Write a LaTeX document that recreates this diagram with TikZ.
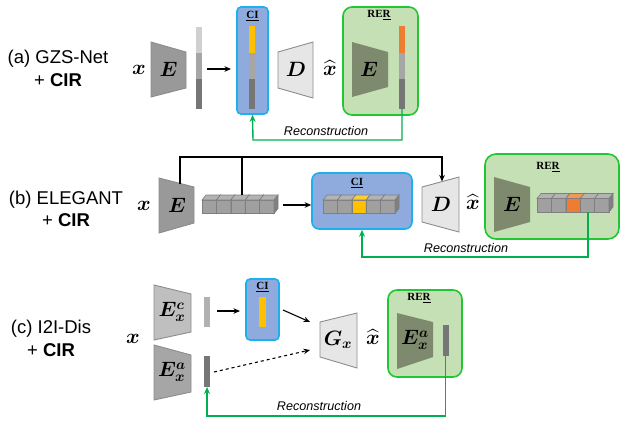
\documentclass[tikz,border=0pt]{standalone}
\usepackage{amsmath}
\usepackage{bm}
\usepackage{fontspec}
\setmainfont{Liberation Sans}
\newfontfamily\serifb{Liberation Serif}
\usetikzlibrary{arrows.meta}
\definecolor{cifill}{HTML}{8FAADC}
\definecolor{ciedge}{HTML}{1CB0EE}
\definecolor{rerfill}{HTML}{C5E0B4}
\definecolor{reredge}{HTML}{22C532}
\definecolor{recon}{HTML}{00B050}
\definecolor{encg}{HTML}{999999}
\definecolor{encl}{HTML}{BFBFBF}
\definecolor{decg}{HTML}{E6E6E6}
\definecolor{encgreen}{HTML}{7D8A6E}
\definecolor{lgray}{HTML}{D0D0D0}
\definecolor{mgray}{HTML}{A6A6A6}
\definecolor{dgray}{HTML}{767676}
\definecolor{cubeg}{HTML}{A0A0A0}
\definecolor{cubeedge}{HTML}{7F7F7F}
\definecolor{ciyellow}{HTML}{FFC000}
\definecolor{rerorange}{HTML}{ED7D31}
\definecolor{trapedge}{HTML}{8C8C8C}
\newcommand{\cuberow}[3]{%
  \foreach \i/\c in {0/cubeg,1/cubeg,2/#3,3/cubeg,4/cubeg}{%
    \pgfmathsetmacro\xx{#1+\i*14.4}
    \draw[draw=cubeedge, line width=0.6, fill=\c] (\xx,#2) rectangle ++(14.4,13.5);
    \draw[draw=cubeedge, line width=0.6, fill=\c!80!white] (\xx,#2) -- ++(4,-5) -- ++(14.4,0) -- ++(-4,5) -- cycle;
    \draw[draw=cubeedge, line width=0.6, fill=\c!80!black] (\xx+14.4,#2) -- ++(4,-5) -- ++(0,13.5) -- ++(-4,5) -- cycle;
  }}
\begin{document}
\begin{tikzpicture}[x=1pt,y=-1pt,
  mainlab/.style={font=\fontsize{18.5}{22.5}\selectfont, align=center, inner sep=0},
  mvar/.style={font=\fontsize{22}{26}\selectfont, inner sep=0},
  svar/.style={font=\fontsize{20}{24}\selectfont, inner sep=0},
  boxlab/.style={font=\serifb\bfseries\fontsize{11}{13}\selectfont, inner sep=0},
  trap/.style={draw=trapedge, line width=0.9},
  cibox/.style={draw=ciedge, fill=cifill, line width=1.6, rounded corners=4},
  rerbox/.style={draw=reredge, fill=rerfill, line width=1.6, rounded corners=9},
  arr/.style={-{Stealth[length=6.5pt,width=5.5pt]}, line width=1.1},
  reconline/.style={draw=recon, line width=1.4, -{Stealth[length=7pt,width=6pt]}},
  recontext/.style={font=\itshape\fontsize{12.6}{15}\selectfont, inner sep=0},
]
\useasboundingbox (0,0) rectangle (621,424);

% ================= (a) =================
\node[mainlab] (La) at (58,68.5) {(a) GZS-Net\\+ \textbf{CIR}};
\node[mvar] (xa) at (139,70) {$\bm{x}$};
\draw[trap, fill=encg] (151,42) -- (186,52) -- (186,88) -- (151,97) -- cycle;
\node[mvar] (Ea) at (168.5,69) {$\bm{E}$};
\fill[lgray] (196,27) rectangle (202,53);
\fill[mgray] (196,53) rectangle (202,79);
\fill[dgray] (196,79) rectangle (202,109);
\coordinate (barAe) at (207,69);
\node[cibox, minimum width=31, minimum height=107, inner sep=0] (CIa) at (252.5,60.5) {};
\coordinate (CIaw) at (231,69);
\draw[arr] (barAe) -- (CIaw);
\node[boxlab] (CIalab) at (252.5,16) {\underline{CI}};
\fill[ciyellow] (249,26) rectangle (255,53);
\fill[mgray] (249,53) rectangle (255,79);
\fill[dgray] (249,79) rectangle (255,109);
\draw[trap, fill=decg] (278,52) -- (313,42) -- (313,98) -- (278,88) -- cycle;
\node[mvar] (Da) at (296,69) {$\bm{D}$};
\node[mvar] (xha) at (330,68) {$\widehat{\bm{x}}$};
\node[rerbox, minimum width=75, minimum height=108, inner sep=0] (RERa) at (380.5,61) {};
\node[boxlab] (RERalab) at (379,15) {RE\underline{R}};
\fill[encgreen] (352,42) -- (388,52) -- (388,87) -- (352,97) -- cycle;
\node[mvar] (Ega) at (369,69) {$\bm{E}$};
\fill[rerorange] (399,26) rectangle (405,53);
\fill[mgray] (399,53) rectangle (405,79);
\fill[dgray] (399,79) rectangle (405,109);
\coordinate (barRa) at (402,109);
\coordinate (rA) at (253,140);
\draw[reconline] (barRa) |- (rA) -- (CIa.south);
\node[recontext] (Rta) at (326,131) {Reconstruction};

% ================= (b) =================
\node[mainlab] (Lb) at (66,209) {(b) ELEGANT\\+ \textbf{CIR}};
\node[mvar] (xb) at (144,206) {$\bm{x}$};
\draw[trap, fill=encg] (159,178) -- (194,187) -- (194,223) -- (159,233) -- cycle;
\node[mvar] (Eb) at (177,205) {$\bm{E}$};
\cuberow{202}{200}{cubeg}
\coordinate (skE) at (180,184);
\coordinate (skTop) at (180,157);
\coordinate (skD) at (442,181.5);
\coordinate (cubeTop) at (242,195);
\draw[arr] (skE) -- (skTop) -| (skD);
\draw[line width=1.1] (cubeTop) -- (cubeTop |- skTop);
\coordinate (cubesE) at (283,205);
\node[cibox, rounded corners=7, minimum width=100, minimum height=56, inner sep=0] (CIb) at (362,201) {};
\draw[arr] (cubesE) -- (CIb.west |- cubesE);
\node[boxlab] (CIblab) at (357,183) {\underline{CI}};
\cuberow{323}{200}{ciyellow}
\draw[trap, fill=decg] (422,187) -- (459,177) -- (459,232) -- (422,222) -- cycle;
\node[mvar] (Db) at (441,204) {$\bm{D}$};
\node[mvar] (xhb) at (473,202) {$\widehat{\bm{x}}$};
\node[rerbox, rounded corners=11, minimum width=134, minimum height=85, inner sep=0] (RERb) at (552,196.5) {};
\node[boxlab] (RERblab) at (548,167) {RE\underline{R}};
\fill[encgreen] (494,177) -- (530,187) -- (530,222) -- (494,232) -- cycle;
\node[mvar] (Egb) at (512,204) {$\bm{E}$};
\cuberow{537}{198.5}{rerorange}
\coordinate (cubeR) at (588,212);
\coordinate (rB) at (362,257);
\draw[reconline] (cubeR) |- (rB) -- (CIb.south);
\node[recontext] (Rtb) at (466,248) {Reconstruction};

% ================= (c) =================
\node[mainlab] (Lc) at (51,338.5) {(c) I2I-Dis\\+ \textbf{CIR}};
\node[mvar] (xc) at (133,339) {$\bm{x}$};
\draw[trap, fill=encl] (154,285) -- (191,294) -- (191,332) -- (154,340) -- cycle;
\node[svar] (Ec) at (172,312) {$\bm{E_x^c}$};
\draw[trap, fill=mgray] (154,345) -- (191,355) -- (191,392) -- (154,400) -- cycle;
\node[svar] (Eac) at (172,372) {$\bm{E_x^a}$};
\fill[lgray!85!black] (204,297) rectangle (210,327);
\fill[dgray] (204,356) rectangle (210,387);
\coordinate (barCe) at (217,311);
\coordinate (barAce) at (214,372);
\coordinate (barAcb) at (207,387);
\node[cibox, minimum width=33, minimum height=61, inner sep=0] (CIc) at (262.5,309.5) {};
\draw[arr] (barCe) -- ++(23,0) coordinate (CIcw);
\node[boxlab] (CIclab) at (262.5,287) {\underline{CI}};
\fill[ciyellow] (259,297) rectangle (266,327);
\draw[trap, fill=decg] (320,322) -- (357,313) -- (357,368) -- (320,357) -- cycle;
\node[svar] (Gc) at (338,340) {$\bm{G_x}$};
\coordinate (Gin1) at (310,322);
\coordinate (Gin2) at (310,350);
\coordinate (CIce) at (283,310);
\draw[arr] (CIce) -- (Gin1);
\draw[arr, dashed] (barAce) -- (Gin2);
\node[mvar] (xhc) at (373,337) {$\widehat{\bm{x}}$};
\node[rerbox, minimum width=74, minimum height=87, inner sep=0] (RERc) at (425,333.5) {};
\node[boxlab] (RERclab) at (419,298) {RE\underline{R}};
\fill[encgreen] (397,313) -- (433,322) -- (433,357) -- (397,369) -- cycle;
\node[svar] (Egc) at (415,340) {$\bm{E_x^a}$};
\fill[dgray] (443,325) rectangle (448.5,356);
\coordinate (barRc) at (445.5,356);
\coordinate (rC) at (207,416);
\draw[reconline] (barRc) |- (rC) -- (barAcb);
\node[recontext] (Rtc) at (319,406) {Reconstruction};
\end{tikzpicture}
\end{document}
